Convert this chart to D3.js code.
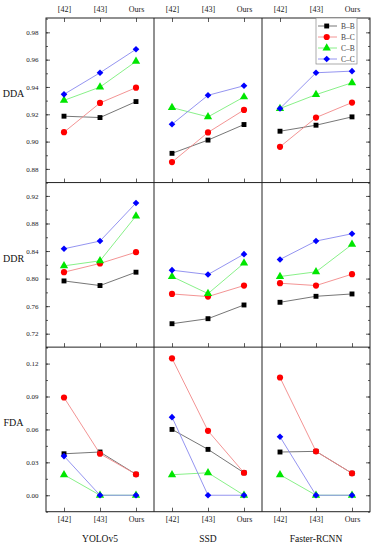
<!DOCTYPE html>
<html>
<head>
<meta charset="utf-8">
<script src="https://cdn.jsdelivr.net/npm/d3@7"></script>
<style>
  body { margin: 0; background: #fff; }
  svg { display: block; font-family: "Liberation Serif", "DejaVu Serif", serif; }
</style>
</head>
<body>
<svg id="chart" width="375" height="550"></svg>
<script>
// Small multiples: detection metrics per model and method

const methods = ['[42]', '[43]', 'Ours'];
const models = ['YOLOv5', 'SSD', 'Faster-RCNN'];
const metrics = ['DDA', 'DDR', 'FDA'];
const seriesNames = ['B–B', 'B–C', 'C–B', 'C–C'];

// each metric: one block per model, one row per series (B-B, B-C, C-B, C-C)
const ddaValues = [
    [[0.9186, 0.9176, 0.9293], [0.9069, 0.9283, 0.9395], [0.9302, 0.9399, 0.9587], [0.9346, 0.9504, 0.9676]],
    [[0.8914, 0.9011, 0.9125], [0.8850, 0.9067, 0.9232], [0.9249, 0.9181, 0.9327], [0.9127, 0.9339, 0.9409]],
    [[0.9076, 0.9120, 0.9181], [0.8962, 0.9176, 0.9286], [0.9242, 0.9344, 0.9431], [0.9242, 0.9504, 0.9516]]
];
const ddrValues = [
    [[0.7966, 0.7899, 0.8093], [0.8093, 0.8220, 0.8384], [0.8185, 0.8258, 0.8909], [0.8433, 0.8545, 0.9098]],
    [[0.7345, 0.7418, 0.7617], [0.7777, 0.7739, 0.7899], [0.8030, 0.7782, 0.8224], [0.8122, 0.8059, 0.8355]],
    [[0.7656, 0.7743, 0.7777], [0.7933, 0.7899, 0.8064], [0.8030, 0.8098, 0.8496], [0.8278, 0.8545, 0.8651]]
];
const fdaValues = [
    [[0.0378, 0.0394, 0.0191], [0.0891, 0.0378, 0.0191], [0.0187, 0.0, 0.0], [0.0357, 0.0, 0.0]],
    [[0.0600, 0.0418, 0.0205], [0.1248, 0.0587, 0.0205], [0.0187, 0.0205, 0.0], [0.0712, 0.0, 0.0]],
    [[0.0394, 0.0400, 0.0200], [0.1073, 0.0400, 0.0200], [0.0187, 0.0, 0.0], [0.0533, 0.0, 0.0]]
];

const yDomains = [[0.87, 0.9905], [0.7005, 0.9394], [-0.015, 0.135]];
const majorTicks = [
    [0.88, 0.90, 0.92, 0.94, 0.96, 0.98],
    [0.72, 0.76, 0.80, 0.84, 0.88, 0.92],
    [0.00, 0.03, 0.06, 0.09, 0.12]
];
const minorTicks = [
    [0.87, 0.88, 0.89, 0.90, 0.91, 0.92, 0.93, 0.94, 0.95, 0.96, 0.97, 0.98, 0.99],
    [0.70, 0.72, 0.74, 0.76, 0.78, 0.80, 0.82, 0.84, 0.86, 0.88, 0.90, 0.92, 0.94],
    [-0.015, 0.0, 0.015, 0.03, 0.045, 0.06, 0.075, 0.09, 0.105, 0.12, 0.135]
];

const markerColors = ['#000000', '#ff0000', '#00e600', '#0000ff'];
const lineColors = ['#666666', '#f28888', '#7aee7a', '#8888ee'];
const markerTypes = [d3.symbolSquare, d3.symbolCircle, d3.symbolTriangle, d3.symbolSquare];
const markerSizes = [24, 30, 30, 22];
const markerRotate = [0, 0, 0, 45];

const allValues = [ddaValues, ddrValues, fdaValues];

const svg = d3.select('#chart');

const plotLeft = 46, plotRight = 370, plotTop = 18, plotBottom = 511.7;

const colScale = d3.scaleBand().domain(models).range([plotLeft, plotRight]);
const rowScale = d3.scaleBand().domain(metrics).range([plotTop, plotBottom]);
const colW = colScale.bandwidth();
const rowH = rowScale.bandwidth();

const x = d3.scalePoint().domain(methods).range([0, colW]).padding(0.5);

const serif = '"Liberation Serif", "DejaVu Serif", serif';

metrics.forEach((metric, ri) => {
    const y = d3.scaleLinear().domain(yDomains[ri]).range([rowH, 0]);
    const rowY = rowScale(metric);

    // left axis (first column only)
    const leftG = svg.append('g').attr('transform', `translate(${plotLeft},${rowY})`);
    leftG.call(d3.axisLeft(y).tickValues(minorTicks[ri]).tickSize(-2).tickFormat(''));
    leftG.append('g').call(d3.axisLeft(y).tickValues(majorTicks[ri]).tickSize(-4).tickPadding(7.5)
        .tickFormat(d3.format('.2f')));
    leftG.selectAll('.domain').remove();
    leftG.selectAll('line').attr('stroke', '#333').attr('stroke-width', 0.8);
    leftG.selectAll('text').attr('font-size', '7px').attr('fill', '#222').attr('font-family', serif);

    // right axis (last column only)
    const rightG = svg.append('g').attr('transform', `translate(${plotRight},${rowY})`);
    rightG.call(d3.axisRight(y).tickValues(minorTicks[ri]).tickSize(-2).tickFormat(''));
    rightG.append('g').call(d3.axisRight(y).tickValues(majorTicks[ri]).tickSize(-4).tickFormat(''));
    rightG.selectAll('.domain').remove();
    rightG.selectAll('line').attr('stroke', '#333').attr('stroke-width', 0.8);

    // metric label
    svg.append('text')
        .attr('x', 13.5)
        .attr('y', rowY + rowH / 2 - 3)
        .attr('text-anchor', 'middle')
        .attr('font-size', '10px')
        .attr('font-family', serif)
        .attr('fill', '#111')
        .text(metric);

    models.forEach((model, ci) => {
        const g = svg.append('g').attr('transform', `translate(${colScale(model)},${rowY})`);

        // bottom ticks, inward
        const bottomAxis = d3.axisBottom(x).tickSize(-4).tickPadding(5);
        if (ri < metrics.length - 1) bottomAxis.tickFormat('');
        const bg = g.append('g').attr('transform', `translate(0,${rowH})`).call(bottomAxis);
        bg.select('.domain').remove();
        bg.selectAll('line').attr('stroke', '#333').attr('stroke-width', 0.8);
        bg.selectAll('text').attr('font-size', '8px').attr('fill', '#222').attr('font-family', serif);

        // top axis with labels on the first row
        if (ri === 0) {
            const tg = g.append('g').call(d3.axisTop(x).tickSize(-4).tickPadding(6));
            tg.select('.domain').remove();
            tg.selectAll('line').attr('stroke', '#333').attr('stroke-width', 0.8);
            tg.selectAll('text').attr('font-size', '8px').attr('fill', '#222').attr('font-family', serif);
        }

        const line = d3.line()
            .x((d, i) => x(methods[i]))
            .y(d => y(d));

        allValues[ri][ci].forEach((vals, si) => {
            g.append('path')
                .datum(vals)
                .attr('d', line)
                .attr('fill', 'none')
                .attr('stroke', lineColors[si])
                .attr('stroke-width', 0.9);

            g.selectAll(null)
                .data(vals)
                .join('path')
                .attr('d', d3.symbol().type(markerTypes[si]).size(markerSizes[si]))
                .attr('transform', (d, i) => `translate(${x(methods[i])},${y(d)}) rotate(${markerRotate[si]})`)
                .attr('fill', markerColors[si]);
        });
    });
});

// model names under the columns
models.forEach(model => {
    svg.append('text')
        .attr('x', colScale(model) + colW / 2)
        .attr('y', 542)
        .attr('text-anchor', 'middle')
        .attr('font-size', '9.5px')
        .attr('font-family', serif)
        .attr('fill', '#111')
        .text(model);
});

// frame and dividers
const frame = svg.append('g').attr('fill', 'none').attr('stroke', '#222').attr('stroke-width', 1);
frame.append('rect')
    .attr('x', plotLeft).attr('y', plotTop)
    .attr('width', plotRight - plotLeft).attr('height', plotBottom - plotTop);
models.slice(1).forEach(model => {
    frame.append('line')
        .attr('x1', colScale(model)).attr('x2', colScale(model))
        .attr('y1', plotTop).attr('y2', plotBottom);
});
metrics.slice(1).forEach(metric => {
    frame.append('line')
        .attr('x1', plotLeft).attr('x2', plotRight)
        .attr('y1', rowScale(metric)).attr('y2', rowScale(metric));
});

// legend in the top right panel
const legend = svg.append('g').attr('transform', 'translate(316,18)');
legend.append('rect')
    .attr('width', 41).attr('height', 46)
    .attr('fill', '#fff').attr('stroke', '#888').attr('stroke-width', 0.7);
seriesNames.forEach((name, si) => {
    const row = legend.append('g').attr('transform', `translate(0,${8 + si * 11})`);
    row.append('line')
        .attr('x1', 2).attr('x2', 21).attr('y1', 0).attr('y2', 0)
        .attr('stroke', lineColors[si]).attr('stroke-width', 0.9);
    row.append('path')
        .attr('d', d3.symbol().type(markerTypes[si]).size(markerSizes[si]))
        .attr('transform', `translate(10.7,0) rotate(${markerRotate[si]})`)
        .attr('fill', markerColors[si]);
    row.append('text')
        .attr('x', 25).attr('y', 0).attr('dy', '0.35em')
        .attr('font-size', '7.5px').attr('font-family', serif).attr('fill', '#444')
        .text(name);
});
</script>
</body>
</html>
